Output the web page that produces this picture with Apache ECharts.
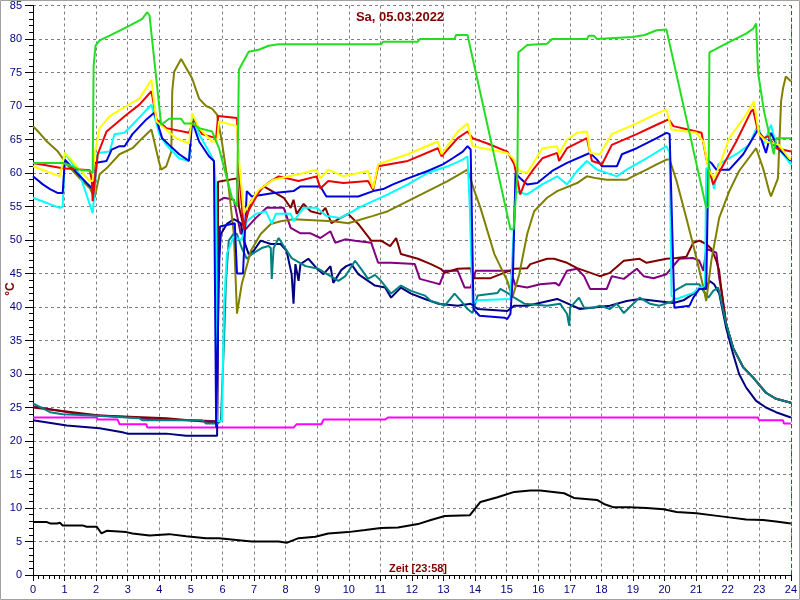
<!DOCTYPE html>
<html><head><meta charset="utf-8">
<script src="https://cdn.jsdelivr.net/npm/echarts@6/dist/echarts.min.js"></script>
<style>html,body{margin:0;padding:0;background:#fff}#c{width:800px;height:600px}</style>
</head><body><div id="c"></div>
<script>
const titleText = 'Sa, 05.03.2022';
const xAxisText = 'Zeit [23:58]';
const yAxisText = '°C';
const nowHour = 24;

const green = [[0,61.5],[0.94,61.5],[1.07,61.3],[1.48,60.5],[1.8,60.3],[1.89,60],[1.92,76],[1.98,79],[2.11,79.8],[2.43,80.5],[3.06,82],[3.46,83],[3.62,84],[3.69,83.5],[4.06,67.2],[4.31,68.1],[4.69,68.1],[4.79,67.4],[5.04,67.4],[5.26,66.7],[5.67,66.2],[5.89,63.7],[6.3,56.3],[6.46,55],[6.49,55],[6.52,75.4],[6.83,78.1],[7.15,78.4],[7.46,79],[7.78,79.2],[11.02,79.2],[11.09,79.6],[12.19,79.6],[12.25,80],[13.35,80],[13.4,80.6],[13.76,80.6],[15.12,51.6],[15.22,51.6],[15.34,60],[15.37,78],[15.65,79.1],[16.28,79.3],[16.44,80],[17.54,80],[17.6,80.5],[17.76,80.5],[17.86,80],[18.99,80.3],[19.37,80.6],[19.75,81.3],[20.06,81.4],[21.32,54.8],[21.39,55],[21.42,78],[21.95,79.3],[22.58,80.8],[22.8,81.5],[22.9,82.3],[22.96,75],[23.15,69.2],[23.46,62.8],[23.5,63],[23.53,65.2],[24,65.2]];
const yellow = [[0,61],[0.06,60.8],[0.85,59.5],[1.01,63],[1.8,58.8],[1.89,58.8],[1.95,62.8],[2.11,66.7],[2.43,68.5],[2.96,70],[3.37,71.1],[3.75,73.9],[3.91,67.7],[4.54,65.2],[4.94,64.4],[5.04,68.9],[5.26,66.7],[5.67,64.7],[5.83,64.7],[5.89,67.7],[6.46,67],[6.52,62],[6.68,54],[6.77,54.8],[7.15,57.5],[7.62,59],[8.41,59.8],[8.98,60.5],[9.1,59.2],[9.35,60.5],[9.83,59.5],[10.61,60.3],[10.77,57.7],[10.93,61.3],[11.87,62.8],[12.82,64.7],[12.94,62.8],[13.45,66.2],[13.76,67.4],[13.92,64],[15.02,63],[15.24,62],[15.34,60.7],[15.43,60.3],[15.65,60],[16.13,63.7],[16.6,64],[16.66,62.8],[16.91,65],[17.23,66],[17.54,66.2],[17.64,63],[17.95,62.8],[18.33,65.8],[19.12,67.4],[19.91,69.2],[20.06,69.5],[20.22,66.5],[21.01,66],[21.23,64.7],[21.39,60.5],[21.57,59.2],[21.73,61],[22.05,65.2],[22.58,68.7],[22.83,70.7],[22.99,65.8],[23.21,64.7],[23.62,64.2],[23.94,62.2],[24,62]];
const red = [[0,61.5],[0.94,60.7],[1.8,60.4],[1.86,59],[1.89,55.8],[2.05,62.8],[2.33,66.2],[2.96,68.7],[3.37,70.2],[3.75,72.2],[3.91,68],[4.22,66.7],[4.94,66],[5.1,68],[5.35,65.8],[5.8,65.2],[5.86,68.5],[6.46,68.2],[6.52,60],[6.68,51.5],[6.77,53.9],[7.21,57.6],[7.53,58.8],[7.78,59.5],[8.41,58.8],[8.98,59.5],[9.1,57.7],[9.35,58.8],[9.83,58.5],[10.61,58.8],[10.77,57.5],[10.93,61],[11.87,61.8],[12.82,63.7],[12.94,62.5],[13.45,65.2],[13.76,66.2],[13.92,65.2],[14.39,64.4],[15.02,63.2],[15.24,61.3],[15.43,56.8],[15.59,58.8],[15.87,60.7],[16.13,62.2],[16.6,63],[16.66,61.8],[16.91,63.7],[17.54,65.2],[17.7,61.8],[18.02,61.3],[18.33,64.2],[19.12,65.8],[19.75,67.2],[20.13,68],[20.28,67],[21.01,66.2],[21.17,66],[21.32,62.2],[21.54,58.3],[21.8,60.7],[22.27,64.7],[22.74,69.2],[22.8,69.5],[22.96,66.2],[23.15,65.2],[23.28,65.5],[23.53,63.7],[24,63.2]];
const cyan = [[0,56.3],[0.85,54.8],[0.94,55],[1.01,63],[1.48,59.8],[1.89,54],[2.05,63],[2.43,63.2],[2.58,65.8],[2.9,66],[3.15,67.2],[3.75,70.2],[4,65.8],[4.22,64.2],[4.63,62.2],[4.94,61.8],[5.04,68.7],[5.26,65.8],[5.57,63.2],[5.73,61.8],[5.8,57.7],[5.83,23],[5.98,23],[6.05,40],[6.14,48],[6.36,50.5],[6.61,50],[6.77,52.8],[7.06,53.9],[7.37,54.3],[7.56,52.4],[7.69,53.9],[8.16,53.9],[8.25,52.8],[8.57,54.8],[8.98,54.8],[9.29,53.6],[9.73,53.3],[10.14,54.3],[10.3,54.8],[10.77,55.8],[11.24,56.8],[11.87,58.3],[12.5,60],[13.13,61],[13.61,62],[13.76,62.5],[13.83,55],[13.92,40.5],[14.08,41],[15.12,41.2],[15.18,41.2],[15.28,57.3],[15.65,56.8],[16.13,58.3],[16.6,59.5],[16.91,58.3],[17.23,60.3],[17.54,61.8],[17.86,60.5],[18.49,59.5],[18.8,60.5],[19.43,62.2],[20.06,64],[20.16,63],[20.22,41.7],[20.38,41.2],[20.91,42.1],[21.1,42.9],[21.28,43],[21.32,60.7],[21.42,60.7],[21.57,57.6],[21.7,61.3],[22.27,62.8],[22.68,64.2],[22.96,67.2],[23.12,64.2],[23.37,67.2],[23.53,64.2],[24,61.3]];
const blue = [[0,59.5],[0.31,58.3],[0.54,57.6],[0.79,57],[0.94,57],[1.01,62],[1.39,60],[1.7,58.5],[1.89,57.6],[1.95,61.5],[2.33,61.8],[2.49,63.5],[2.74,64],[2.9,64],[3.15,65.8],[3.59,68],[3.84,69],[4.09,65.2],[4.31,64.2],[4.63,62.8],[4.94,61.8],[5.04,67.7],[5.26,64.7],[5.57,62.5],[5.73,61.8],[5.8,22],[5.86,22],[5.92,52],[6.39,52.5],[6.46,45],[6.65,45],[6.77,57.3],[6.93,56.5],[7.62,57],[8.25,57.3],[8.47,58],[9.1,58],[9.29,56.5],[10.3,56.5],[10.77,57.3],[11.09,57.6],[11.4,58.3],[11.87,59.2],[12.5,60.3],[12.98,61.3],[13.29,62.2],[13.61,63.2],[13.76,64],[13.86,63.5],[13.95,39.7],[14.14,38.7],[14.93,38.4],[15.02,38.2],[15.12,39],[15.2,45],[15.28,60],[15.43,59.2],[15.65,58.3],[15.97,58.5],[16.44,60.3],[16.91,61.5],[17.54,62.8],[17.64,63],[17.86,62],[18.02,61],[18.49,61],[18.65,62.8],[19.12,63.7],[19.75,65.2],[20.06,66],[20.16,65.8],[20.31,39.9],[20.79,40.2],[20.91,41.4],[21.1,42.7],[21.23,42.7],[21.32,43],[21.39,61.8],[21.48,61.5],[21.64,60.5],[22.05,60.5],[22.49,62.8],[22.96,66.5],[23.21,63],[23.37,66],[23.59,63.7],[24,61.8]];
const olive = [[0,67],[0.16,66.2],[0.44,64.7],[0.79,63.2],[1.07,61.3],[1.48,59.2],[1.8,57.7],[1.95,56.3],[2.11,59.8],[2.33,60.7],[2.74,62.8],[3.15,63.7],[3.46,65.2],[3.75,66.5],[4,61.5],[4.06,60.5],[4.22,61],[4.38,63.2],[4.41,72.2],[4.47,75.1],[4.69,77],[5.04,74.1],[5.26,71.1],[5.48,70],[5.67,69.6],[5.83,68.7],[5.98,64.7],[6.2,57.7],[6.36,50.9],[6.46,39],[6.61,43.4],[6.9,48.4],[7.21,50.9],[7.53,52.4],[7.84,52.8],[8.25,53.1],[9.51,52.8],[9.98,52.5],[10.77,53.6],[11.24,54.3],[11.87,55.8],[12.5,57.3],[13.13,58.8],[13.76,60.5],[13.98,57.3],[14.17,54.8],[14.61,47.9],[15.02,43.9],[15.18,41.4],[15.4,44.9],[15.65,50.9],[15.87,54.3],[16.28,56.3],[16.6,57.3],[17.23,58.5],[17.54,59.5],[17.86,59.2],[18.17,59],[18.8,59],[19.12,59.8],[19.43,60.5],[19.75,61.3],[20.06,62],[20.16,62],[20.38,58.8],[20.69,53.3],[21.01,47.3],[21.23,42.9],[21.32,40.9],[21.48,46.9],[21.73,53.3],[22.05,57.3],[22.36,60.3],[22.9,63.7],[23.12,60.7],[23.31,57.3],[23.37,56.5],[23.59,59.2],[23.69,70.7],[23.75,72.6],[23.84,74.4],[24,73.7]];
const maroon = [[0,25],[2.11,23.8],[4.22,23.4],[5.67,22.8],[5.83,22.8],[5.86,58.7],[6.46,59.2],[6.52,55],[6.68,51.8],[6.9,55.8],[7.31,58],[7.94,56.3],[8.16,54.8],[8.25,56],[8.35,53.9],[8.57,55.4],[8.79,54.3],[9.1,53.9],[9.26,54.8],[9.45,52.5],[9.67,53.1],[9.98,53.9],[10.3,52.4],[10.71,49.9],[11.02,49.9],[11.31,49.1],[11.5,50.3],[11.65,47.9],[12.19,47.2],[12.6,46.4],[12.91,45.7],[13.04,45.1],[13.45,45.7],[13.86,45.8],[13.92,44.3],[14.49,44.3],[15.24,45.7],[15.65,45.8],[15.75,46.4],[16.28,47.2],[16.5,47.2],[16.91,46.6],[17.23,45.8],[17.95,44.6],[18.27,45.1],[18.71,46.9],[19.21,47.2],[19.43,46.6],[20.06,47.2],[20.38,47.3],[20.69,47.5],[20.91,49.6],[21.1,49.9],[21.32,49.4],[21.48,48.7],[21.64,46.9],[21.73,45.4],[21.8,42.5],[21.95,37.5],[22.17,33.9],[22.49,31],[22.8,29.5],[23.21,27.2],[23.53,26.3],[24,25.7]];
const purple = [[0,25.2],[1.48,24],[3.15,23.5],[3.69,23.3],[5.67,23],[5.83,23],[5.86,55.8],[6.05,56.3],[6.36,56],[6.58,50.9],[6.77,51.8],[7.06,53.3],[7.4,54.8],[7.94,54.8],[8.16,51.8],[8.47,51],[8.79,51],[9.1,50.3],[9.42,51.3],[9.57,49.6],[9.89,50.1],[10.2,49.9],[10.71,49.6],[10.93,46.6],[11.34,46.6],[12.09,46.4],[12.25,44.2],[12.72,43.6],[12.88,43.4],[13.04,45.4],[13.45,45.4],[13.67,42.9],[13.86,42.9],[14.02,45.4],[15.12,45.4],[15.28,43.2],[15.65,42.9],[16.06,43.4],[16.54,43.6],[16.66,43.2],[16.91,45.4],[17.23,45.7],[17.45,44.6],[17.64,42.7],[18.17,42.7],[18.33,44.6],[18.71,44.2],[19.12,45.7],[19.34,44.6],[19.65,44.3],[20.06,44.9],[20.47,47.2],[20.91,47.3],[21.1,46.9],[21.23,45.4],[21.32,48.7],[21.64,48.1],[21.73,44.3],[21.8,42.5],[21.95,37.5],[22.17,33.9],[22.49,31],[22.8,29.5],[23.21,27.2],[23.53,26.3],[24,25.7]];
const navy = [[0,23.1],[1.07,22.3],[2.11,21.9],[2.83,21.3],[2.99,21.1],[4.22,21.1],[4.85,20.8],[5.83,20.8],[5.86,45],[5.95,50.9],[6.14,52.4],[6.36,53.1],[6.58,52.5],[6.68,49.9],[6.83,47.9],[6.99,48.4],[7.21,49.9],[7.53,49.4],[7.84,49.4],[8.03,48.4],[8.19,44.9],[8.25,40.5],[8.31,46.4],[8.41,43.9],[8.47,46.4],[8.72,47.2],[8.98,45.8],[9.2,44.9],[9.42,46.1],[9.51,43.6],[9.76,45.5],[9.92,46.1],[10.08,46.4],[10.3,44.9],[10.83,43.2],[11.15,42.9],[11.34,41.4],[11.65,42.9],[11.97,42],[12.41,41.2],[12.82,40.5],[13.45,40.2],[13.86,40.5],[14.08,39.7],[15.02,39.4],[15.24,40.2],[15.65,40.2],[16.6,41.2],[17.32,39.7],[18.27,40.2],[18.8,40.9],[19.21,41.2],[20.28,40.6],[20.6,41],[20.91,42],[21.1,42.7],[21.32,42.7],[21.42,43.9],[21.57,43.4],[21.73,42],[21.95,36.9],[22.17,33],[22.36,30],[22.58,28],[22.9,26],[23.21,25],[23.53,24.3],[24,23.5]];
const teal = [[0,25.6],[0.54,24.3],[0.94,24],[1.89,23.8],[3.37,23.4],[3.46,23.1],[5.35,23.1],[5.48,22.6],[5.83,22.6],[5.95,23],[6.05,35],[6.11,43.9],[6.2,49.9],[6.36,51],[6.46,50.9],[6.61,48.8],[6.77,47.2],[6.93,47.9],[7.24,48.8],[7.46,49.1],[7.53,48.8],[7.56,44.2],[7.62,48.8],[7.78,50.3],[7.94,49.1],[8.19,47.3],[8.63,46.1],[9.04,45.7],[9.42,44.6],[9.67,43.9],[9.89,44.6],[10.2,46.9],[10.39,45.7],[10.61,44.2],[10.83,44.8],[11.02,43.9],[11.34,42],[11.65,43.2],[11.97,42.4],[12.41,41.7],[12.6,40.9],[12.82,40.6],[13.04,40.2],[13.35,42],[13.54,41],[13.76,39.7],[13.92,39.1],[14.08,41.7],[14.71,42.1],[14.8,42.7],[15.02,42.1],[15.24,41.4],[15.56,40.5],[16.28,40.2],[16.69,40.5],[16.91,39],[16.98,37.2],[17.01,39.9],[17.29,41.4],[17.45,39.9],[17.76,39.9],[17.95,40.2],[18.27,39.7],[18.49,40.5],[18.71,39.1],[18.9,40],[19.21,41.4],[19.53,40.5],[19.84,40.2],[20.28,40.9],[20.31,42.4],[20.69,43.4],[21.1,43.4],[21.23,42.4],[21.39,41.4],[21.54,42.4],[21.7,42.9],[21.95,37.5],[22.17,33.9],[22.49,31],[22.8,29.5],[23.21,27.2],[23.53,26.3],[24,25.7]];
const magenta = [[0,23.5],[2.02,23.5],[2.05,23.2],[2.68,23.2],[2.74,22.5],[3.59,22.5],[3.62,22],[8.25,22],[8.35,22.5],[9.13,22.5],[9.2,23.2],[11.15,23.2],[11.24,23.5],[22.96,23.5],[22.99,23.1],[23.75,23.1],[23.78,22.6],[24,22.6]];
const black = [[0,7.9],[0.44,7.9],[0.54,7.7],[0.76,7.7],[0.85,7.8],[0.94,7.4],[1.57,7.4],[1.7,7.2],[2.02,7.2],[2.17,6.2],[2.33,6.6],[2.96,6.4],[3.15,6.2],[3.69,5.9],[4.31,6.1],[4.85,5.8],[5.48,5.5],[5.89,5.5],[6.52,5.2],[6.93,5],[7.78,5],[8.03,4.8],[8.41,5.5],[8.94,5.7],[9.35,6.2],[9.98,6.4],[10.52,6.7],[11.02,7],[11.56,7.1],[12.19,7.6],[12.6,8.2],[13.04,8.8],[13.83,8.9],[14.17,10.9],[14.71,11.6],[15.24,12.4],[15.75,12.6],[16.06,12.6],[16.82,12.2],[17.13,11.5],[17.86,11.2],[18.08,10.6],[18.39,10.1],[18.9,10.1],[19.43,10],[19.97,9.8],[20.38,9.4],[21.01,9.2],[21.54,8.9],[22.05,8.6],[22.58,8.3],[23.12,8.2],[23.53,8],[24,7.7]];

const seriesDefs = [
  ['magenta', magenta, '#ff00ff'],
  ['black', black, '#000000'],
  ['purple', purple, '#800080'],
  ['maroon', maroon, '#800000'],
  ['navy', navy, '#000080'],
  ['teal', teal, '#008080'],
  ['olive', olive, '#808000'],
  ['cyan', cyan, '#00ffff'],
  ['blue', blue, '#0000dd'],
  ['red', red, '#ee0000'],
  ['yellow', yellow, '#ffff00'],
  ['green', green, '#22dd22']
];

const chart = echarts.init(document.getElementById('c'), null, {renderer: 'canvas'});
const lab = {color: '#000080', fontFamily: 'Liberation Sans, Arial, sans-serif', fontSize: 11};
const series = seriesDefs.map(([name, data, color]) => ({
  name, type: 'line', data, showSymbol: false, symbol: 'none',
  lineStyle: {color, width: 2}, itemStyle: {color}, animation: false
}));
series[series.length - 1].markLine = {
  silent: true, symbol: 'none', label: {show: false},
  lineStyle: {color: '#008000', type: [4, 3], width: 1},
  data: [{xAxis: nowHour}]
};
chart.setOption({
  animation: false,
  backgroundColor: '#ffffff',
  grid: {left: 33, right: 5, top: 4, bottom: 25},
  xAxis: {
    type: 'value', min: 0, max: 24, interval: 1,
    axisLine: {show: true, lineStyle: {color: '#000000', width: 1}},
    axisTick: {show: true, length: 6, lineStyle: {color: '#000000'}},
    minorTick: {show: true, splitNumber: 6, length: 4, lineStyle: {color: '#000000'}},
    axisLabel: Object.assign({margin: 9}, lab),
    splitLine: {show: true, lineStyle: {color: '#808080', type: [3, 3], width: 1}}
  },
  yAxis: {
    type: 'value', min: 0, max: 85, interval: 5,
    axisLine: {show: true, lineStyle: {color: '#000000', width: 1}},
    axisTick: {show: true, length: 8, lineStyle: {color: '#000000'}},
    minorTick: {show: true, splitNumber: 5, length: 4, lineStyle: {color: '#000000'}},
    axisLabel: Object.assign({margin: 11}, lab),
    splitLine: {show: true, lineStyle: {color: '#808080', type: [3, 3], width: 1}}
  },
  graphic: [
    {type: 'rect', silent: true, z: 100, shape: {x: 0.5, y: 0.5, width: 799, height: 599}, style: {fill: 'none', stroke: '#a0a0a0', lineWidth: 1}},
    {type: 'text', z: 100, left: 'center', top: 11, style: {text: titleText, fill: '#800000', font: 'bold 13px Liberation Sans, Arial, sans-serif'}},
    {type: 'text', z: 100, x: 418, y: 569, style: {text: xAxisText, fill: '#800000', font: 'bold 11px Liberation Sans, Arial, sans-serif', align: 'center', verticalAlign: 'middle'}},
    {type: 'text', z: 100, x: 11, y: 289, rotation: Math.PI / 2, style: {text: yAxisText, fill: '#800000', font: 'bold 12px Liberation Sans, Arial, sans-serif', align: 'center', verticalAlign: 'middle'}}
  ],
  series
});
</script>
</body></html>
